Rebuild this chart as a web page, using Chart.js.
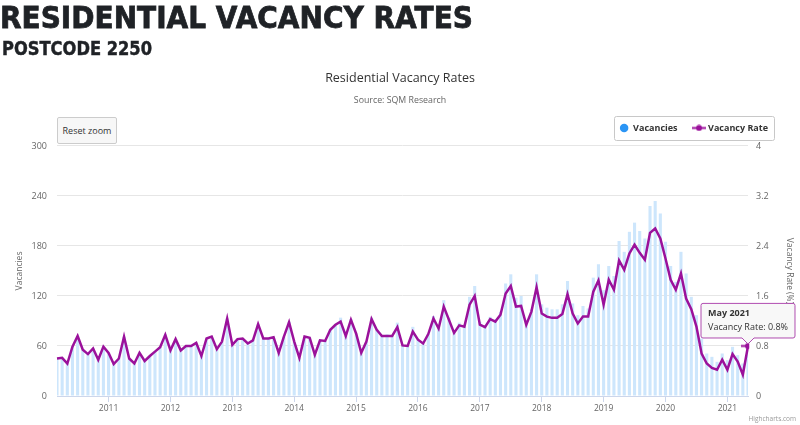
<!DOCTYPE html>
<html>
<head>
<meta charset="utf-8">
<title>Residential Vacancy Rates - Postcode 2250</title>
<script src="https://cdn.jsdelivr.net/npm/chart.js@4.4.1/dist/chart.umd.min.js"></script>
<style>
  html, body { margin: 0; padding: 0; background: #fff; }
  #wrap { position: relative; width: 800px; height: 425px; overflow: hidden; }
  #chart { position: absolute; left: 0; top: 0; }
  .head { position: absolute; left: 0; margin: 0; white-space: nowrap; color: #1f2226;
          font-family: "DejaVu Sans", sans-serif; font-weight: bold; line-height: 1; transform-origin: 0 0;
          -webkit-text-stroke: 0.8px #1f2226; }
  #h1 { top: 2px; font-size: 31px; }
  #h2 { top: 39px; left: 2px; font-size: 19px; -webkit-text-stroke: 0.5px #1f2226; }
  #reset { position: absolute; left: 57px; top: 117px; width: 60px; height: 27px; box-sizing: border-box;
           border: 1px solid #cccccc; border-radius: 2px; background: #f7f7f7; color: #333;
           font: 9px "Open Sans", sans-serif; line-height: 25px; text-align: center; }
  #credit { position: absolute; right: 4px; top: 414px; font: 6.5px "Open Sans", sans-serif; color: #999; }
</style>
</head>
<body>
<div id="wrap">
  <canvas id="chart" width="800" height="425"></canvas>
  <div class="head" id="h1">RESIDENTIAL VACANCY RATES</div>
  <div class="head" id="h2">POSTCODE 2250</div>
  <div id="reset">Reset zoom</div>
  <div id="credit">Highcharts.com</div>
</div>
<script>
// monthly data, Mar 2010 .. May 2021
const startYear = 2010;
const startMonth = 2; // March
const monthNames = ['Jan', 'Feb', 'Mar', 'Apr', 'May', 'Jun', 'Jul', 'Aug', 'Sep', 'Oct', 'Nov', 'Dec'];

const vacancies = [
  45, 46, 40, 60, 72, 56, 51, 57, 44, 59,
  52, 39, 45, 71, 45, 39, 52, 42, 48, 53,
  59, 74, 55, 68, 55, 60, 60, 64, 48, 69,
  71, 56, 65, 93, 62, 68, 69, 63, 67, 86,
  69, 69, 71, 52, 71, 89, 65, 46, 71, 70,
  50, 67, 66, 80, 86, 94, 72, 92, 75, 52,
  65, 94, 80, 72, 74, 72, 88, 61, 60, 83,
  68, 63, 74, 96, 82, 115, 94, 76, 88, 86,
  119, 132, 89, 85, 95, 92, 101, 135, 146, 118,
  120, 90, 104, 146, 110, 106, 104, 104, 110, 138,
  111, 97, 108, 105, 142, 158, 127, 156, 144, 186,
  173, 197, 208, 198, 189, 228, 234, 219, 185, 156,
  137, 173, 147, 119, 97, 69, 51, 47, 41, 51,
  43, 59, 49, 39, 62
];

const vacancyRate = [
  0.60, 0.61, 0.52, 0.79, 0.96, 0.74, 0.67, 0.76, 0.58, 0.79,
  0.69, 0.51, 0.60, 0.95, 0.60, 0.52, 0.69, 0.56, 0.64, 0.71,
  0.78, 0.98, 0.73, 0.91, 0.73, 0.80, 0.80, 0.85, 0.64, 0.92,
  0.95, 0.75, 0.87, 1.24, 0.82, 0.91, 0.92, 0.84, 0.89, 1.15,
  0.92, 0.92, 0.94, 0.69, 0.95, 1.18, 0.87, 0.61, 0.95, 0.93,
  0.66, 0.89, 0.88, 1.06, 1.14, 1.19, 0.96, 1.22, 1.00, 0.69,
  0.87, 1.23, 1.06, 0.96, 0.96, 0.96, 1.10, 0.81, 0.80, 1.03,
  0.90, 0.84, 0.99, 1.24, 1.08, 1.43, 1.22, 1.01, 1.13, 1.11,
  1.46, 1.60, 1.14, 1.10, 1.23, 1.19, 1.30, 1.64, 1.76, 1.43,
  1.44, 1.14, 1.35, 1.74, 1.32, 1.27, 1.25, 1.25, 1.31, 1.63,
  1.32, 1.16, 1.27, 1.27, 1.67, 1.85, 1.46, 1.86, 1.70, 2.17,
  2.02, 2.28, 2.42, 2.29, 2.18, 2.61, 2.68, 2.52, 2.20, 1.86,
  1.70, 1.96, 1.56, 1.39, 1.11, 0.68, 0.52, 0.45, 0.42, 0.58,
  0.42, 0.67, 0.55, 0.34, 0.8
];

const yearTicks = ['2011', '2012', '2013', '2014', '2015', '2016', '2017', '2018', '2019', '2020', '2021'];
const vacancyTicks = [0, 60, 120, 180, 240, 300];
const rateTicks = [0, 0.8, 1.6, 2.4, 3.2, 4];

const labels = vacancyRate.map((_, i) => {
  const m = startMonth + i;
  return monthNames[m % 12] + ' ' + (startYear + Math.floor(m / 12));
});

const PURPLE = '#9b119b';
const FONT = '"Open Sans", sans-serif';

// legend symbol for the line series: short line with a dot
const lineSymbol = document.createElement('canvas');
lineSymbol.width = 14;
lineSymbol.height = 7;
(function () {
  const c = lineSymbol.getContext('2d');
  c.strokeStyle = PURPLE;
  c.lineWidth = 2;
  c.beginPath(); c.moveTo(0, 3.5); c.lineTo(14, 3.5); c.stroke();
  c.fillStyle = PURPLE;
  c.beginPath(); c.arc(7, 3.5, 3, 0, Math.PI * 2); c.fill();
})();

const legendBox = {
  id: 'legendBox',
  afterLayout(chart) {
    const lg = chart.legend;
    lg.top -= 3.5;
    lg.bottom -= 3.5;
    lg.right = 785;
  },
  afterDraw(chart) {
    const hb = chart.legend.legendHitBoxes;
    if (!hb || !hb.length) return;
    const last = hb[hb.length - 1];
    const left = hb[0].left - 6;
    const right = last.left + last.width + 6;
    const cy = hb[0].top + hb[0].height / 2;
    const ctx = chart.ctx;
    ctx.save();
    ctx.strokeStyle = '#c8c8c8';
    ctx.lineWidth = 1;
    ctx.beginPath();
    ctx.roundRect(Math.round(left) + 0.5, Math.round(cy - 12) + 0.5, Math.round(right - left), 24, 2);
    ctx.stroke();
    ctx.restore();
  }
};

const chart = new Chart(document.getElementById('chart'), {
  type: 'bar',
  data: {
    labels: labels,
    datasets: [
      {
        type: 'line',
        label: 'Vacancy Rate',
        data: vacancyRate,
        yAxisID: 'y1',
        borderColor: PURPLE,
        backgroundColor: PURPLE,
        borderWidth: 2.5,
        pointRadius: 0,
        pointHoverRadius: 4.5,
        pointHoverBackgroundColor: PURPLE,
        pointHoverBorderColor: 'rgba(155,17,155,0.25)',
        pointHoverBorderWidth: 7,
        tension: 0,
        pointStyle: lineSymbol
      },
      {
        label: 'Vacancies',
        data: vacancies,
        yAxisID: 'y',
        backgroundColor: '#cde6fc',
        borderWidth: 0,
        barPercentage: 0.6,
        categoryPercentage: 1,
        pointStyle: 'circle'
      }
    ]
  },
  options: {
    responsive: false,
    animation: false,
    events: [],
    layout: { padding: 0 },
    plugins: {
      title: {
        display: true,
        text: 'Residential Vacancy Rates',
        color: '#333',
        font: { family: FONT, size: 12.5, weight: 'normal' },
        padding: { top: 70.5, bottom: 7.5 }
      },
      subtitle: {
        display: true,
        text: 'Source: SQM Research',
        color: '#666',
        font: { family: FONT, size: 8.8 },
        padding: { top: 2, bottom: 4.4 }
      },
      legend: {
        position: 'top',
        align: 'end',
        labels: {
          usePointStyle: true,
          boxHeight: 6,
          padding: 17,
          color: '#333',
          font: { family: FONT, size: 9, weight: 'bold' },
          sort: (a, b) => b.datasetIndex - a.datasetIndex,
          generateLabels(chart) {
            const items = Chart.defaults.plugins.legend.labels.generateLabels(chart);
            items.forEach(it => {
              if (it.datasetIndex === 1) {
                it.fillStyle = '#2b95f5';
                it.strokeStyle = '#2b95f5';
                it.lineWidth = 0;
              }
            });
            return items;
          }
        }
      },
      tooltip: {
        animation: false,
        filter: item => item.datasetIndex === 0,
        yAlign: 'bottom',
        xAlign: 'center',
        backgroundColor: 'rgba(247,247,247,0.9)',
        borderColor: '#b04cb0',
        borderWidth: 1,
        cornerRadius: 2,
        caretSize: 6,
        caretPadding: 2,
        padding: { top: 5, bottom: 5, left: 7, right: 7 },
        displayColors: false,
        titleColor: '#333',
        bodyColor: '#333',
        titleFont: { family: FONT, size: 9, weight: 'bold' },
        bodyFont: { family: FONT, size: 9 },
        titleMarginBottom: 3,
        callbacks: {
          title: items => items[0].label,
          label: item => 'Vacancy Rate: ' + item.parsed.y + '%'
        }
      }
    },
    scales: {
      x: {
        type: 'category',
        offset: false,
        grid: {
          offset: false,
          drawOnChartArea: false,
          drawTicks: true,
          tickLength: 6,
          color: '#ccd6eb'
        },
        border: { display: true, color: '#ccd6eb' },
        ticks: {
          autoSkip: false,
          maxRotation: 0,
          padding: 1,
          color: '#666',
          font: { family: FONT, size: 8.5 },
          callback: function (value, index) {
            const lab = labels[index];
            if (!lab.startsWith('Jan')) return null;
            const yr = lab.slice(4);
            return yearTicks.includes(yr) ? yr : null;
          }
        },
        afterFit: s => { s.height = 29; }
      },
      y: {
        position: 'left',
        min: 0,
        max: 300,
        afterBuildTicks: s => { s.ticks = vacancyTicks.map(v => ({ value: v })); },
        grid: { color: '#e6e6e6', drawTicks: false },
        border: { display: false },
        ticks: { padding: 10, color: '#666', font: { family: FONT, size: 9 } },
        title: {
          display: true,
          text: 'Vacancies',
          color: '#666',
          font: { family: FONT, size: 8.5 },
          padding: { top: 14, bottom: 0 }
        },
        afterFit: s => { s.width = 57; }
      },
      y1: {
        position: 'right',
        min: 0,
        max: 4,
        afterBuildTicks: s => { s.ticks = rateTicks.map(v => ({ value: v })); },
        grid: { display: false, drawTicks: false },
        border: { display: false },
        ticks: {
          padding: 8,
          color: '#666',
          font: { family: FONT, size: 9 },
          callback: v => String(+v.toFixed(1))
        },
        title: {
          display: true,
          text: 'Vacancy Rate (%)',
          color: '#666',
          font: { family: FONT, size: 8.5 },
          padding: { top: 5, bottom: 0 }
        },
        afterFit: s => { s.width = 52; }
      }
    }
  },
  plugins: [legendBox]
});

// hovered point + tooltip on May 2021, as in the screenshot
const lastIdx = vacancyRate.length - 1;
chart.setActiveElements([{ datasetIndex: 0, index: lastIdx }]);
chart.tooltip.setActiveElements([{ datasetIndex: 0, index: lastIdx }], { x: 749, y: 346 });
chart.update();

// stretch the page headings to the width they have in the picture
function fitWidth(id, w) {
  const el = document.getElementById(id);
  const cur = el.getBoundingClientRect().width;
  el.style.transform = 'scaleX(' + (w / cur) + ')';
}
fitWidth('h1', 473);
fitWidth('h2', 150);
</script>
</body>
</html>
